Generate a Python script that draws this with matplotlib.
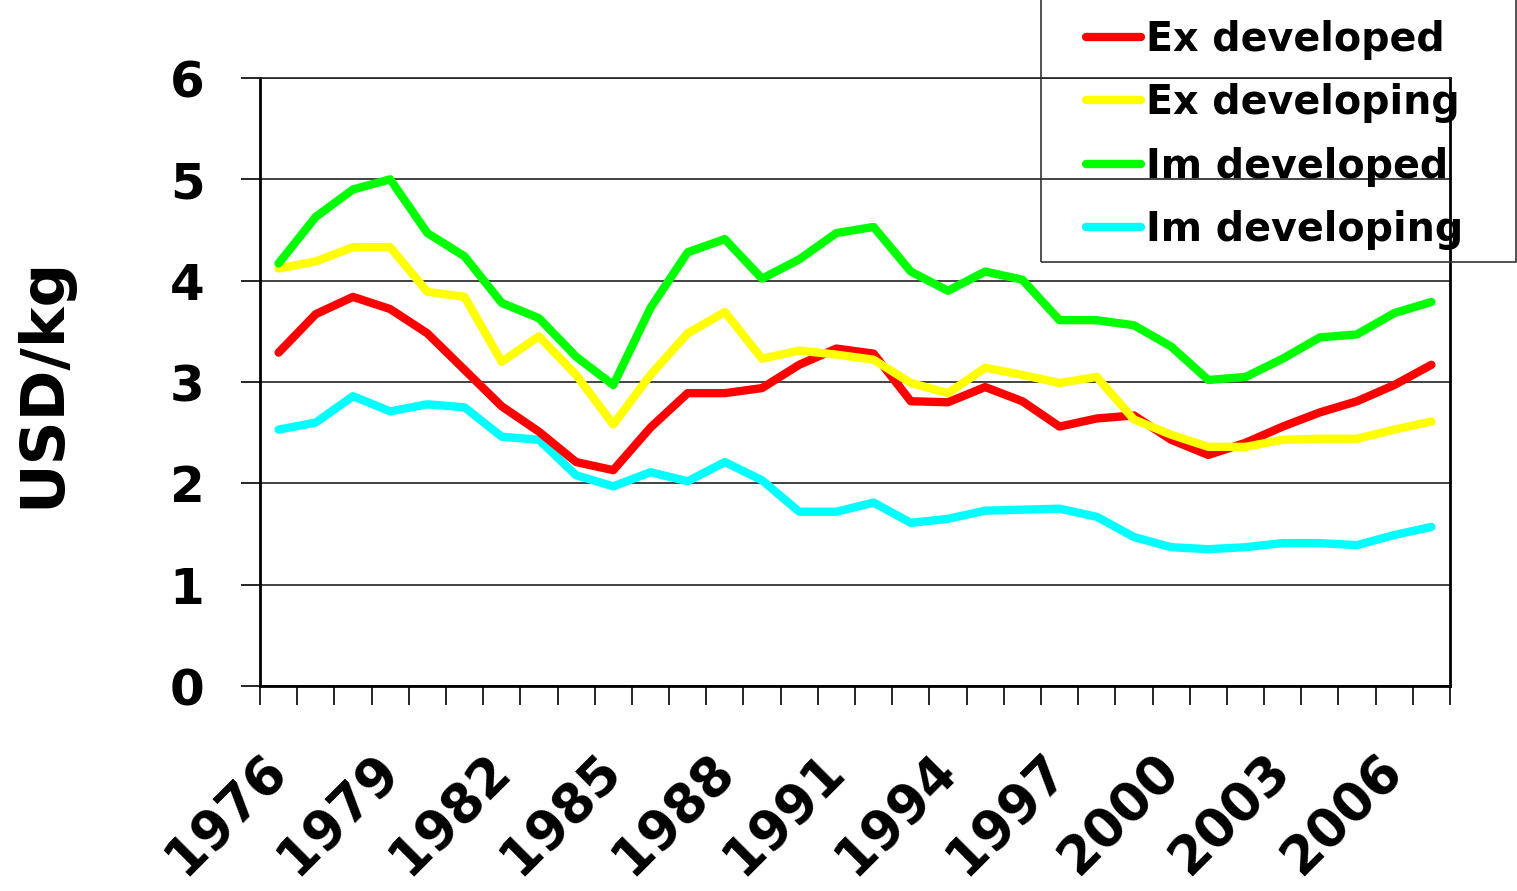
import numpy as np
import matplotlib
matplotlib.use("Agg")
import matplotlib.pyplot as plt
from matplotlib.patches import Rectangle

# price per kg, 1976-2007
years = list(range(1976, 2008))
ex_developed = [3.29, 3.67, 3.84, 3.72, 3.48, 3.12, 2.76, 2.51, 2.21, 2.13,
                2.55, 2.89, 2.89, 2.94, 3.17, 3.33, 3.28, 2.81, 2.80, 2.95,
                2.81, 2.56, 2.64, 2.67, 2.43, 2.28, 2.40, 2.56, 2.70, 2.81,
                2.97, 3.17]
ex_developing = [4.12, 4.19, 4.33, 4.33, 3.89, 3.84, 3.20, 3.45, 3.07, 2.58,
                 3.07, 3.48, 3.69, 3.23, 3.31, 3.27, 3.22, 2.99, 2.89, 3.14,
                 3.07, 2.99, 3.05, 2.63, 2.48, 2.36, 2.36, 2.43, 2.44, 2.44,
                 2.53, 2.61]
im_developed = [4.17, 4.63, 4.90, 5.00, 4.47, 4.24, 3.78, 3.63, 3.25, 2.97,
                3.73, 4.28, 4.41, 4.02, 4.21, 4.47, 4.53, 4.09, 3.90, 4.09,
                4.01, 3.61, 3.61, 3.56, 3.35, 3.02, 3.05, 3.23, 3.44, 3.47,
                3.68, 3.79]
im_developing = [2.53, 2.60, 2.86, 2.71, 2.78, 2.75, 2.46, 2.43, 2.08, 1.97,
                 2.11, 2.02, 2.21, 2.03, 1.72, 1.72, 1.81, 1.61, 1.65, 1.73,
                 1.74, 1.75, 1.67, 1.47, 1.37, 1.35, 1.37, 1.41, 1.41, 1.39,
                 1.49, 1.57]

series = [
    ("Ex developed", ex_developed, "#FF0000", 3),
    ("Ex developing", ex_developing, "#FFFF00", 4),
    ("Im developed", im_developed, "#00FF00", 5),
    ("Im developing", im_developing, "#00FFFF", 2),
]

plt.rcParams["font.family"] = ["DejaVu Sans"]
plt.rcParams["font.weight"] = "bold"

W, H = 1517, 891
fig = plt.figure(figsize=(W / 100, H / 100), dpi=100)
ax = fig.add_axes([260 / W, 1 - 686 / H, (1450 - 260) / W, (686 - 78) / H])

x = np.arange(len(years))
handles = []
for name, vals, color, z in series:
    h, = ax.plot(x, vals, color=color, lw=6, solid_capstyle="round",
                 solid_joinstyle="round", zorder=z, label=name)
    handles.append(h)

ax.set_xlim(-0.5, len(years) - 0.5)
ax.set_ylim(0, 6)

# y axis
ax.set_yticks(range(0, 7))
ax.tick_params(axis="y", direction="out", length=14, width=1.2, pad=26,
               labelsize=36)
ax.yaxis.grid(True, color="#222222", lw=1.2)
ax.set_axisbelow(True)
ax.set_ylabel("USD/kg", fontsize=44, fontweight="bold", labelpad=70)

# x axis: ticks at category boundaries, labels every third year
ax.set_xticks(np.arange(-0.5, len(years), 1))
ax.set_xticklabels([])
ax.tick_params(axis="x", which="major", direction="out", length=14, width=1.2)
lab_pos = x[::3]
ax.set_xticks(lab_pos, minor=True)
ax.set_xticklabels([str(years[i]) for i in lab_pos], minor=True,
                   rotation=45, ha="right", va="center",
                   rotation_mode="anchor", fontsize=38, fontweight="bold")
ax.tick_params(axis="x", which="minor", length=0, pad=55)

for s in ["left", "bottom", "right"]:
    ax.spines[s].set_linewidth(2)
    ax.spines[s].set_color("black")
ax.spines["top"].set_linewidth(1.2)
ax.spines["top"].set_color("#222222")

# legend, frame drawn separately (it runs off the top of the figure)
leg = fig.legend(handles=handles, loc="upper left",
                 bbox_to_anchor=(1086 / W, 1 - 20 / H),
                 frameon=False, borderpad=0, borderaxespad=0,
                 handlelength=1.4, handletextpad=0.12, labelspacing=0.59,
                 prop={"size": 28.5, "weight": "bold"})
fig.patches.append(Rectangle((1041 / W, 1 - 262 / H), (1516 - 1041) / W,
                             262 / H + 0.02, transform=fig.transFigure,
                             fill=False, edgecolor="#333333", lw=1.2))

fig.savefig("out.png", dpi=100)
